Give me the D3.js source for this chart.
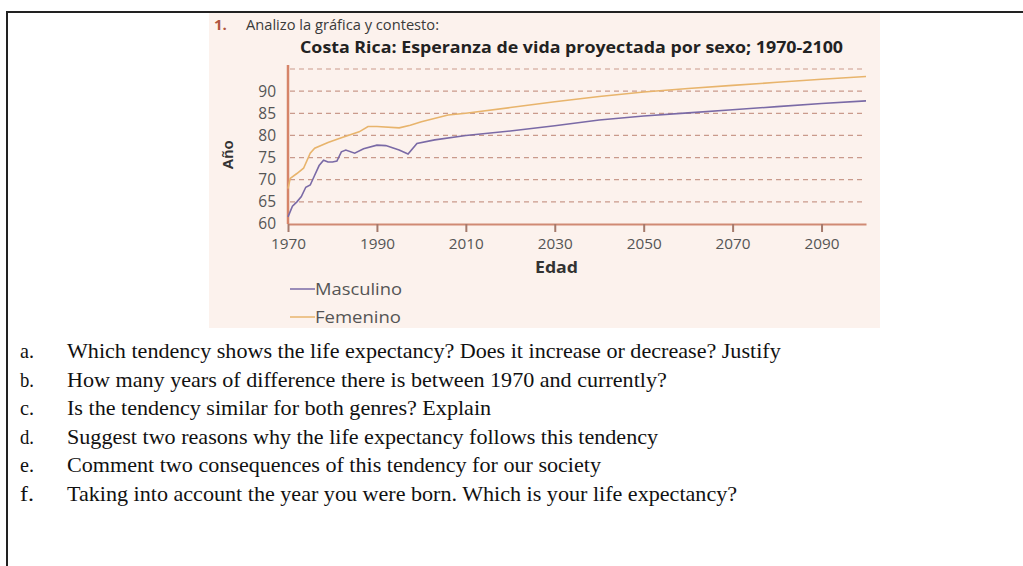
<!DOCTYPE html>
<html>
<head>
<meta charset="utf-8">
<script src="https://cdn.jsdelivr.net/npm/d3@7"></script>
<style>
  body { margin: 0; background: #fff; }
  svg { display: block; }
</style>
</head>
<body>
<svg id="page" width="1023" height="566"></svg>
<script>
// years and values
var years = [1970, 1971, 1972, 1973, 1974, 1975, 1976, 1977, 1978, 1979, 1980, 1981, 1982, 1983, 1985, 1987, 1990, 1992, 1995, 1997, 1999, 2003, 2010, 2020, 2030, 2040, 2050, 2060, 2070, 2080, 2090, 2100];
var masculino = [61.6, 64, 65, 66.2, 68.3, 68.8, 71, 73.2, 74.4, 74, 74, 74.2, 76.3, 76.7, 76, 77, 77.8, 77.7, 76.7, 75.8, 78.2, 79, 80, 81, 82.2, 83.5, 84.4, 85.1, 85.8, 86.5, 87.2, 87.8];
var femYears = [1970, 1970.5, 1972, 1973.5, 1975, 1976, 1979, 1982, 1986, 1988, 1990, 1995, 1997.5, 2000, 2006, 2010, 2020, 2030, 2040, 2050, 2060, 2070, 2080, 2090, 2100];
var femenino = [68, 70.3, 71.4, 72.6, 76, 77.1, 78.4, 79.5, 80.8, 82, 82, 81.7, 82.3, 83.1, 84.6, 85, 86.3, 87.6, 88.8, 89.8, 90.6, 91.3, 92, 92.7, 93.3];
var xTicks = [1970, 1990, 2010, 2030, 2050, 2070, 2090];
var yTicks = [60, 65, 70, 75, 80, 85, 90];
var gridLines = [65, 70, 75, 80, 85, 90, 95];
var series = [
  { name: "Masculino", color: "#7a6aa6" },
  { name: "Femenino", color: "#e8b46c" }
];
var questions = [
  ["a.", "Which tendency shows the life expectancy? Does it increase or decrease? Justify"],
  ["b.", "How many years of difference there is between 1970 and currently?"],
  ["c.", "Is the tendency similar for both genres? Explain"],
  ["d.", "Suggest two reasons why the life expectancy follows this tendency"],
  ["e.", "Comment two consequences of this tendency for our society"],
  ["f.", "Taking into account the year you were born. Which is your life expectancy?"]
];

var svg = d3.select("#page");

// page frame
svg.append("line").attr("x1", 6).attr("x2", 1023).attr("y1", 12).attr("y2", 12)
  .attr("stroke", "#222").attr("stroke-width", 2);
svg.append("line").attr("x1", 7).attr("x2", 7).attr("y1", 12).attr("y2", 566)
  .attr("stroke", "#222").attr("stroke-width", 2);

// scanned picture background
svg.append("rect").attr("x", 209).attr("y", 13).attr("width", 671).attr("height", 315)
  .attr("fill", "#fcf2ed");

var font = "'Open Sans', 'Noto Sans', sans-serif";

svg.append("text").attr("x", 214).attr("y", 30)
  .attr("font-family", font).attr("font-size", 15).attr("font-weight", "bold")
  .attr("fill", "#b0553e").text("1.");
svg.append("text").attr("x", 246).attr("y", 30)
  .attr("font-family", font).attr("font-size", 15).attr("fill", "#3a3a3a")
  .attr("textLength", 193).attr("lengthAdjust", "spacingAndGlyphs")
  .text("Analizo la gráfica y contesto:");
svg.append("text").attr("x", 300).attr("y", 53)
  .attr("font-family", font).attr("font-size", 15.5).attr("font-weight", "bold")
  .attr("fill", "#222").attr("textLength", 543).attr("lengthAdjust", "spacingAndGlyphs")
  .text("Costa Rica: Esperanza de vida proyectada por sexo; 1970-2100");

var x = d3.scaleLinear().domain([1970, 2100]).range([288, 866]);
var y = d3.scaleLinear().domain([60, 95]).range([224, 69]);

// dashed grid
svg.append("g").selectAll("line").data(gridLines).enter().append("line")
  .attr("x1", 290).attr("x2", x(2100))
  .attr("y1", function(d) { return y(d); }).attr("y2", function(d) { return y(d); })
  .attr("stroke", "#c99a8c").attr("stroke-width", 1.2).attr("stroke-dasharray", "5,4");

// x axis
var xAxis = svg.append("g").attr("transform", "translate(0," + y(60) + ")")
  .call(d3.axisBottom(x).tickValues(xTicks).tickFormat(d3.format("d")).tickSize(8).tickSizeOuter(0));
xAxis.select(".domain").attr("stroke", "#d08a74").attr("stroke-width", 2);
xAxis.selectAll(".tick line").attr("stroke", "#a57a6c").attr("stroke-width", 2);
xAxis.selectAll(".tick text").attr("font-family", font).attr("font-size", 15)
  .attr("fill", "#555").attr("y", 14).attr("textLength", 35).attr("lengthAdjust", "spacingAndGlyphs");

// y axis
var yAxis = svg.append("g").attr("transform", "translate(288,0)")
  .call(d3.axisLeft(y).tickValues(yTicks).tickSize(0).tickPadding(12));
yAxis.select(".domain").attr("stroke", "#d68469").attr("stroke-width", 2.5)
  .attr("d", "M0," + y(60) + "V" + (y(95) - 4));
yAxis.selectAll(".tick text").attr("font-family", font).attr("font-size", 15.5).attr("fill", "#555");

svg.append("text").attr("transform", "translate(233,155) rotate(-90)")
  .attr("text-anchor", "middle").attr("font-family", "'Liberation Sans Narrow', 'Liberation Sans', sans-serif")
  .attr("font-size", 15).attr("font-weight", "bold").attr("fill", "#333").text("Año");
svg.append("text").attr("x", 535).attr("y", 273)
  .attr("font-family", font).attr("font-size", 16).attr("font-weight", "bold")
  .attr("fill", "#333").attr("textLength", 43).attr("lengthAdjust", "spacingAndGlyphs")
  .text("Edad");

var line = d3.line().x(function(d) { return x(d[0]); }).y(function(d) { return y(d[1]); });

svg.append("path").datum(d3.zip(femYears, femenino))
  .attr("d", line).attr("fill", "none").attr("stroke", series[1].color).attr("stroke-width", 1.6);
svg.append("path").datum(d3.zip(years, masculino))
  .attr("d", line).attr("fill", "none").attr("stroke", series[0].color).attr("stroke-width", 1.6);

// legend
var legendWidths = [87, 86];
var legend = svg.append("g").selectAll("g").data(series).enter().append("g")
  .attr("transform", function(d, i) { return "translate(290," + (289 + i * 28) + ")"; });
legend.append("line").attr("x1", 0).attr("x2", 25)
  .attr("stroke", function(d) { return d.color; }).attr("stroke-width", 1.5);
legend.append("text").attr("x", 25).attr("dy", "0.35em")
  .attr("font-family", font).attr("font-size", 16).attr("fill", "#555")
  .attr("textLength", function(d, i) { return legendWidths[i]; })
  .attr("lengthAdjust", "spacingAndGlyphs")
  .text(function(d) { return d.name; });

// questions: condensed serif, squeezed so the first line ends near x=781
var q = svg.append("g").selectAll("g").data(questions).enter().append("g")
  .attr("transform", function(d, i) { return "translate(0," + (358 + i * 28.6) + ")"; });
q.append("text").attr("x", 20).attr("font-family", "'Liberation Serif', serif")
  .attr("font-size", 22).attr("fill", "#111")
  .attr("textLength", 14).attr("lengthAdjust", "spacingAndGlyphs")
  .text(function(d) { return d[0]; });
var qText = q.append("text").attr("font-family", "'Liberation Serif', serif")
  .attr("font-size", 22).attr("fill", "#111")
  .text(function(d) { return d[1]; });
var sx = 714 / qText.node().getComputedTextLength();
qText.attr("transform", "translate(67,0) scale(" + sx + ",1)");
</script>
</body>
</html>
